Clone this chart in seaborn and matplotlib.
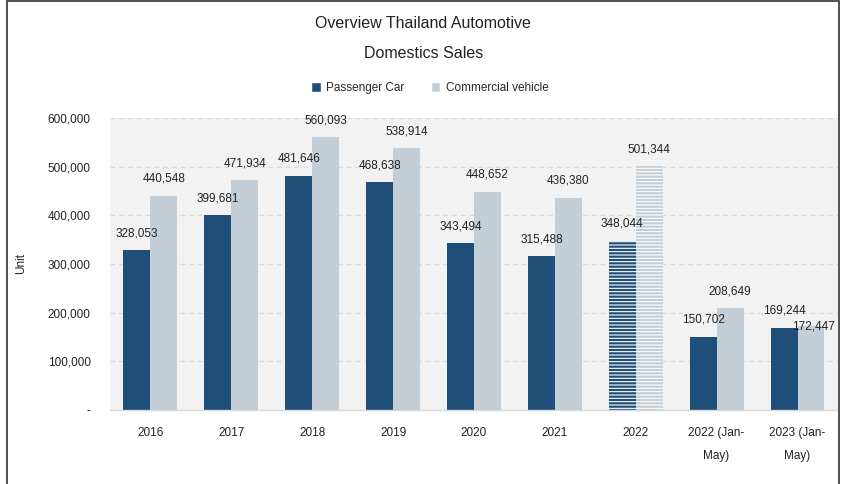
import matplotlib
matplotlib.use("Agg")
import matplotlib.pyplot as plt
import matplotlib.patches as mpatches
import seaborn as sns
import pandas as pd

years = ["2016", "2017", "2018", "2019", "2020", "2021", "2022",
         "2022 (Jan-\nMay)", "2023 (Jan-\nMay)"]
passenger = [328053, 399681, 481646, 468638, 343494, 315488, 348044, 150702, 169244]
commercial = [440548, 471934, 560093, 538914, 448652, 436380, 501344, 208649, 172447]
series_names = ["Passenger Car", "Commercial vehicle"]
colors = ["#1f4e79", "#c3ced6"]

df = pd.DataFrame({
    "Year": years * 2,
    "Units": passenger + commercial,
    "Type": [series_names[0]] * len(years) + [series_names[1]] * len(years),
})

sns.set_theme(style="white")
plt.rcParams["font.family"] = ["Liberation Sans", "DejaVu Sans"]
plt.rcParams["hatch.linewidth"] = 0.8

fig = plt.figure(figsize=(8.43, 4.84), dpi=100)
ax = fig.add_axes([0.1305, 0.1529, 0.8635, 0.6033])
ax.set_facecolor("#f2f2f2")

sns.barplot(data=df, x="Year", y="Units", hue="Type", palette=colors,
            width=0.667, saturation=1, ax=ax, order=years,
            hue_order=series_names, legend=False, linewidth=0)

# full-year 2022 bars drawn with white horizontal stripes
for cont in ax.containers:
    bar = cont.patches[6]
    bar.set_hatch("-----")
    bar.set_edgecolor("white")
    bar.set_linewidth(0)

# value labels above the bars
for cont, vals in zip(ax.containers, [passenger, commercial]):
    for i, (bar, v) in enumerate(zip(cont.patches, vals)):
        cx = bar.get_x() + bar.get_width() / 2
        off = (0, 12)
        if cont is ax.containers[1] and i == len(vals) - 1:
            off = (2, 0)
        ax.annotate(f"{v:,}", (cx, v), xytext=off, textcoords="offset points",
                    ha="center", va="center", fontsize=8.5, color="#222222")

ax.set_ylim(0, 600000)
ax.set_xlim(-0.5, len(years) - 0.5)
ticks = list(range(0, 600001, 100000))
ax.set_yticks(ticks)
ax.set_yticklabels(["-" if t == 0 else f"{t:,}" for t in ticks])
ax.yaxis.grid(True, linestyle=(0, (4, 3)), color="#d9d9d9", linewidth=0.9)
ax.set_axisbelow(True)
ax.tick_params(axis="y", length=0, pad=14, labelsize=8.5, colors="#222222")
ax.tick_params(axis="x", length=0, pad=12, labelsize=8.5, colors="#222222")
for lbl in ax.get_xticklabels():
    lbl.set_linespacing(2.3)
    lbl.set_verticalalignment("top")

for side in ["top", "right", "left"]:
    ax.spines[side].set_visible(False)
ax.spines["bottom"].set_color("#d9d9d9")
ax.spines["bottom"].set_linewidth(1)

ax.set_xlabel("")
ax.set_ylabel("Unit", fontsize=8.5, color="#222222", labelpad=15)

fig.text(0.502, 0.952, "Overview Thailand Automotive", ha="center", va="center",
         fontsize=11.5, color="#222222")
fig.text(0.502, 0.890, "Domestics Sales", ha="center", va="center",
         fontsize=11.5, color="#222222")

handles = [mpatches.Patch(facecolor=c, label=n) for c, n in zip(colors, series_names)]
fig.legend(handles=handles, loc="center", bbox_to_anchor=(0.51, 0.818), ncol=2,
           frameon=False, fontsize=8.5, handlelength=0.8, handleheight=0.8,
           handletextpad=0.5, columnspacing=2.2)

# outer frame around the chart
frame = mpatches.Rectangle((7 / 843, -0.05), 832 / 843, 1.048, transform=fig.transFigure,
                           fill=False, edgecolor="#333333", linewidth=1.2)
fig.patches.append(frame)

fig.savefig("out.png", dpi=100, facecolor="white")
